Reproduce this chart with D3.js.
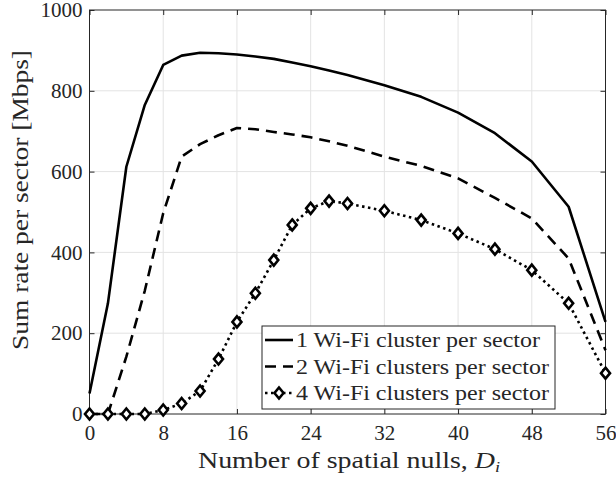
<!DOCTYPE html>
<html><head><meta charset="utf-8">
<script src="https://cdn.jsdelivr.net/npm/d3@7"></script>
<style>body{margin:0;background:#fff}svg{display:block}svg text{font-family:"Liberation Serif","DejaVu Serif",serif !important;fill:#262626}</style>
</head><body><svg id="c" width="616" height="478"></svg>
<script>
const D = [0,2,4,6,8,10,12,14,16,18,20,22,24,26,28,32,36,40,44,48,52,56];
const one = [51,274,612,765,864,887,894,893,890,885,879,870,861,850,839,814,785,746,695,625,513,228];
const two = [0,0,142,305,497,637,668,690,708,705,698,692,685,675,664,637,614,583,535,484,385,158];
const four = [0,0,0,0,10,26,57,136,228,299,381,468,509,527,521,503,480,447,408,356,274,101];
const xTicks = [0,8,16,24,32,40,48,56];
const yTicks = [0,200,400,600,800,1000];
const seriesNames = ["1 Wi-Fi cluster per sector","2 Wi-Fi clusters per sector","4 Wi-Fi clusters per sector"];

const svg = d3.select("#c");
const L=89.5, R=605.5, T=10, B=414;
const x = d3.scaleLinear().domain([0,56]).range([L,R]);
const y = d3.scaleLinear().domain([0,1000]).range([B,T]);

// grid
svg.append("g").selectAll("line").data(xTicks.slice(1,-1)).join("line")
  .attr("x1",d=>x(d)).attr("x2",d=>x(d)).attr("y1",T).attr("y2",B)
  .attr("stroke","#e3e3e3").attr("stroke-width",1);
svg.append("g").selectAll("line").data(yTicks.slice(1,-1)).join("line")
  .attr("y1",d=>y(d)).attr("y2",d=>y(d)).attr("x1",L).attr("x2",R)
  .attr("stroke","#e3e3e3").attr("stroke-width",1);

// axes
const ax = (g)=>{g.select(".domain").remove(); g.selectAll("line").attr("stroke","#262626");
  g.selectAll("text").style("font-size","21px").style("fill","#262626");};
const fmt = d3.format("d");
svg.append("g").attr("transform",`translate(0,${B})`)
  .call(d3.axisBottom(x).tickValues(xTicks).tickFormat(fmt).tickSizeInner(-5).tickSizeOuter(0).tickPadding(11))
  .call(ax);
svg.append("g").attr("transform",`translate(${L},0)`)
  .call(d3.axisLeft(y).tickValues(yTicks).tickFormat(fmt).tickSizeInner(-5).tickSizeOuter(0).tickPadding(7))
  .call(ax);
svg.append("g").attr("transform",`translate(0,${T})`)
  .call(d3.axisTop(x).tickValues(xTicks).tickSizeInner(-5).tickSizeOuter(0).tickFormat(""))
  .call(ax);
svg.append("g").attr("transform",`translate(${R},0)`)
  .call(d3.axisRight(y).tickValues(yTicks).tickSizeInner(-5).tickSizeOuter(0).tickFormat(""))
  .call(ax);
svg.append("rect").attr("x",L).attr("y",T).attr("width",R-L).attr("height",B-T)
  .attr("fill","none").attr("stroke","#262626").attr("stroke-width",1);

const line = d3.line().x((d,i)=>x(D[i])).y(d=>y(d));
const styles = [
  {dash:null},
  {dash:"11,7"},
  {dash:"2.5,3.5"}
];
[one,two,four].forEach((s,k)=>{
  svg.append("path").datum(s).attr("d",line).attr("fill","none").attr("stroke","#000")
    .attr("stroke-width",2.6).attr("stroke-dasharray",styles[k].dash).attr("stroke-linejoin","round");
});
const diamond = (cx,cy)=>`M${cx},${cy-5.5}L${cx+4.5},${cy}L${cx},${cy+5.5}L${cx-4.5},${cy}Z`;
svg.append("g").selectAll("path").data(four).join("path")
  .attr("d",(d,i)=>diamond(x(D[i]),y(d))).attr("fill","#fff").attr("stroke","#000").attr("stroke-width",2.6);

// legend
const lg = svg.append("g");
lg.append("rect").attr("x",262).attr("y",326).attr("width",293).attr("height",83)
  .attr("fill","#fff").attr("stroke","#262626").attr("stroke-width",1);
const rows=[340,366.5,393];
const lens=[244,253,253];
seriesNames.forEach((n,k)=>{
  lg.append("line").attr("x1",265).attr("x2",293).attr("y1",rows[k]).attr("y2",rows[k])
    .attr("stroke","#000").attr("stroke-width",2.6).attr("stroke-dasharray",styles[k].dash);
  if(k===2) lg.append("path").attr("d",diamond(279,rows[k])).attr("fill","#fff").attr("stroke","#000").attr("stroke-width",2.6);
  lg.append("text").attr("x",296).attr("y",rows[k]).attr("dy","0.35em").style("font-size","20px")
    .attr("textLength",lens[k]).attr("lengthAdjust","spacingAndGlyphs").text(n);
});

// titles
svg.append("text").attr("x",198).attr("y",468).style("font-size","23px")
  .attr("textLength",302).attr("lengthAdjust","spacingAndGlyphs")
  .html('Number of spatial nulls, <tspan font-style="italic">D</tspan><tspan font-style="italic" style="font-size:15px" dy="4">i</tspan>');
svg.append("text").attr("transform",`translate(28,200) rotate(-90)`).attr("text-anchor","middle").style("font-size","23px")
  .attr("textLength",300).attr("lengthAdjust","spacingAndGlyphs")
  .text("Sum rate per sector [Mbps]");
</script></body></html>
